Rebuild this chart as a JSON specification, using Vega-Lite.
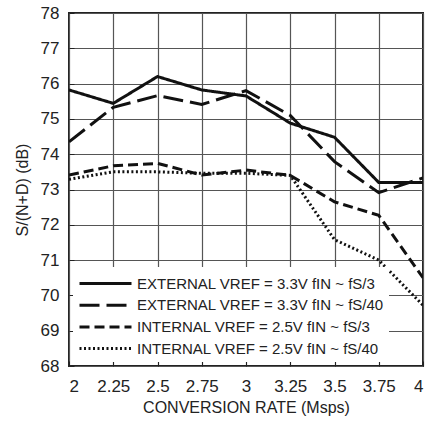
{
  "$schema": "https://vega.github.io/schema/vega-lite/v6.json",
  "width": 354,
  "height": 353,
  "autosize": {"type": "none"},
  "padding": {"left": 69, "top": 13, "right": 5, "bottom": 55},
  "background": "white",
  "config": {
    "font": "Liberation Sans",
    "view": {"stroke": "#222", "strokeWidth": 2},
    "axis": {
      "domain": false,
      "grid": true,
      "gridColor": "#555",
      "gridWidth": 1.2,
      "gridOpacity": 1,
      "tickColor": "#222",
      "tickSize": -5,
      "labelFont": "Liberation Sans",
      "labelFontSize": 17,
      "labelColor": "#222",
      "titleFont": "Liberation Sans",
      "titleFontSize": 16,
      "titleFontWeight": "normal",
      "titleColor": "#222"
    }
  },
  "data": {
    "values": [
      {"rate": 2, "db": 75.82, "series": "EXTERNAL VREF = 3.3V fIN ~ fS/3"},
      {"rate": 2.25, "db": 75.44, "series": "EXTERNAL VREF = 3.3V fIN ~ fS/3"},
      {"rate": 2.5, "db": 76.2, "series": "EXTERNAL VREF = 3.3V fIN ~ fS/3"},
      {"rate": 2.75, "db": 75.82, "series": "EXTERNAL VREF = 3.3V fIN ~ fS/3"},
      {"rate": 3, "db": 75.65, "series": "EXTERNAL VREF = 3.3V fIN ~ fS/3"},
      {"rate": 3.25, "db": 74.88, "series": "EXTERNAL VREF = 3.3V fIN ~ fS/3"},
      {"rate": 3.5, "db": 74.48, "series": "EXTERNAL VREF = 3.3V fIN ~ fS/3"},
      {"rate": 3.75, "db": 73.2, "series": "EXTERNAL VREF = 3.3V fIN ~ fS/3"},
      {"rate": 4, "db": 73.2, "series": "EXTERNAL VREF = 3.3V fIN ~ fS/3"},
      {"rate": 2, "db": 74.35, "series": "EXTERNAL VREF = 3.3V fIN ~ fS/40"},
      {"rate": 2.25, "db": 75.33, "series": "EXTERNAL VREF = 3.3V fIN ~ fS/40"},
      {"rate": 2.5, "db": 75.66, "series": "EXTERNAL VREF = 3.3V fIN ~ fS/40"},
      {"rate": 2.75, "db": 75.41, "series": "EXTERNAL VREF = 3.3V fIN ~ fS/40"},
      {"rate": 3, "db": 75.8, "series": "EXTERNAL VREF = 3.3V fIN ~ fS/40"},
      {"rate": 3.25, "db": 75.1, "series": "EXTERNAL VREF = 3.3V fIN ~ fS/40"},
      {"rate": 3.5, "db": 73.79, "series": "EXTERNAL VREF = 3.3V fIN ~ fS/40"},
      {"rate": 3.75, "db": 72.91, "series": "EXTERNAL VREF = 3.3V fIN ~ fS/40"},
      {"rate": 4, "db": 73.33, "series": "EXTERNAL VREF = 3.3V fIN ~ fS/40"},
      {"rate": 2, "db": 73.41, "series": "INTERNAL VREF = 2.5V fIN ~ fS/3"},
      {"rate": 2.25, "db": 73.67, "series": "INTERNAL VREF = 2.5V fIN ~ fS/3"},
      {"rate": 2.5, "db": 73.74, "series": "INTERNAL VREF = 2.5V fIN ~ fS/3"},
      {"rate": 2.75, "db": 73.41, "series": "INTERNAL VREF = 2.5V fIN ~ fS/3"},
      {"rate": 3, "db": 73.55, "series": "INTERNAL VREF = 2.5V fIN ~ fS/3"},
      {"rate": 3.25, "db": 73.4, "series": "INTERNAL VREF = 2.5V fIN ~ fS/3"},
      {"rate": 3.5, "db": 72.65, "series": "INTERNAL VREF = 2.5V fIN ~ fS/3"},
      {"rate": 3.75, "db": 72.27, "series": "INTERNAL VREF = 2.5V fIN ~ fS/3"},
      {"rate": 4, "db": 70.5, "series": "INTERNAL VREF = 2.5V fIN ~ fS/3"},
      {"rate": 2, "db": 73.29, "series": "INTERNAL VREF = 2.5V fIN ~ fS/40"},
      {"rate": 2.25, "db": 73.5, "series": "INTERNAL VREF = 2.5V fIN ~ fS/40"},
      {"rate": 2.5, "db": 73.5, "series": "INTERNAL VREF = 2.5V fIN ~ fS/40"},
      {"rate": 2.75, "db": 73.46, "series": "INTERNAL VREF = 2.5V fIN ~ fS/40"},
      {"rate": 3, "db": 73.46, "series": "INTERNAL VREF = 2.5V fIN ~ fS/40"},
      {"rate": 3.25, "db": 73.4, "series": "INTERNAL VREF = 2.5V fIN ~ fS/40"},
      {"rate": 3.5, "db": 71.58, "series": "INTERNAL VREF = 2.5V fIN ~ fS/40"},
      {"rate": 3.75, "db": 71.0, "series": "INTERNAL VREF = 2.5V fIN ~ fS/40"},
      {"rate": 4, "db": 69.72, "series": "INTERNAL VREF = 2.5V fIN ~ fS/40"}
    ]
  },
  "mark": {"type": "line", "color": "#111", "strokeCap": "butt", "strokeJoin": "miter", "clip": true},
  "encoding": {
    "x": {
      "field": "rate",
      "type": "quantitative",
      "scale": {"domain": [2, 4], "nice": false, "zero": false},
      "axis": {
        "values": [2, 2.25, 2.5, 2.75, 3, 3.25, 3.5, 3.75, 4],
        "labelExpr": "'' + datum.value",
        "labelPadding": 17,
        "title": "CONVERSION RATE (Msps)",
        "titlePadding": 5
      }
    },
    "y": {
      "field": "db",
      "type": "quantitative",
      "scale": {"domain": [68, 78], "nice": false, "zero": false},
      "axis": {
        "values": [68, 69, 70, 71, 72, 73, 74, 75, 76, 77, 78],
        "labelPadding": 15,
        "title": "S/(N+D) (dB)",
        "titlePadding": 10
      }
    },
    "strokeDash": {
      "field": "series",
      "type": "nominal",
      "scale": {
        "domain": [
          "EXTERNAL VREF = 3.3V fIN ~ fS/3",
          "EXTERNAL VREF = 3.3V fIN ~ fS/40",
          "INTERNAL VREF = 2.5V fIN ~ fS/3",
          "INTERNAL VREF = 2.5V fIN ~ fS/40"
        ],
        "range": [[1, 0], [20, 7], [10, 5], [2, 2.5]]
      },
      "legend": {
        "orient": "none",
        "legendX": 4,
        "legendY": 254,
        "title": null,
        "fillColor": "white",
        "padding": 5,
        "symbolType": "M-1,0H4.2",
        "symbolSize": 400,
        "symbolStrokeWidth": 3,
        "symbolStrokeColor": "#111",
        "labelFont": "Liberation Sans",
        "labelFontSize": 15,
        "labelColor": "#222",
        "labelOffset": 36,
        "rowPadding": 1.7,
        "labelLimit": 320
      }
    },
    "strokeWidth": {
      "field": "series",
      "type": "nominal",
      "scale": {
        "domain": [
          "EXTERNAL VREF = 3.3V fIN ~ fS/3",
          "EXTERNAL VREF = 3.3V fIN ~ fS/40",
          "INTERNAL VREF = 2.5V fIN ~ fS/3",
          "INTERNAL VREF = 2.5V fIN ~ fS/40"
        ],
        "range": [3, 3, 3, 2.2]
      }
    }
  }
}
